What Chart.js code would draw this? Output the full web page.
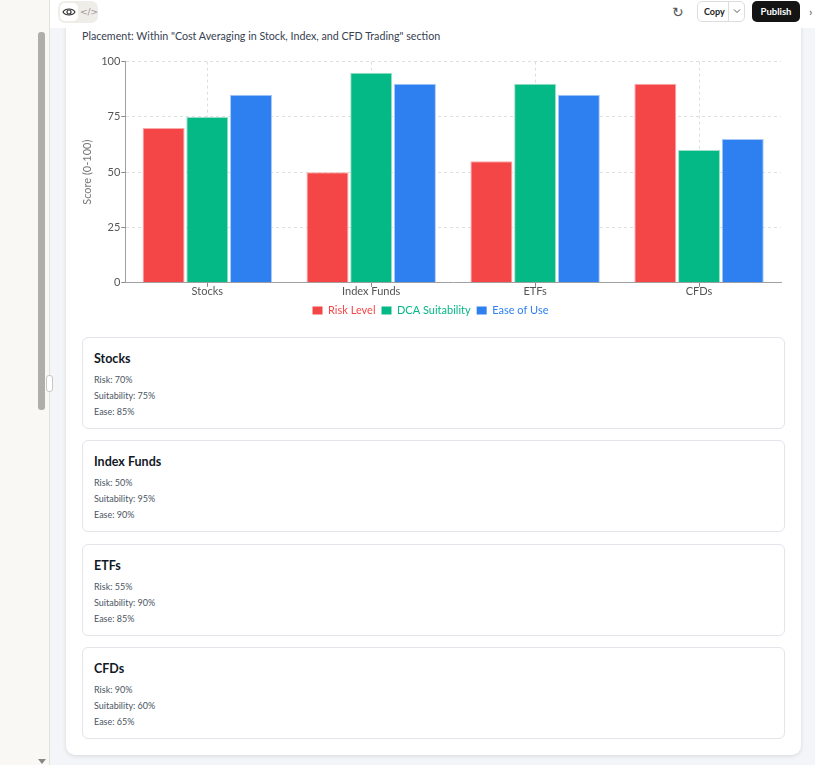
<!DOCTYPE html>
<html>
<head>
<meta charset="utf-8">
<script src="https://cdn.jsdelivr.net/npm/chart.js@4.4.1/dist/chart.umd.min.js"></script>
<style>
  html,body{margin:0;padding:0;width:815px;height:765px;overflow:hidden;font-family:Lato,"Noto Sans",sans-serif;background:#f3f5f9;}
  #sidebar{position:absolute;left:0;top:0;width:49px;height:765px;background:#f9f8f4;border-right:1px solid #e3e1da;}
  #thumb{position:absolute;left:38px;top:32px;width:7px;height:378px;background:#b0aea9;border-radius:3px;}
  #handle{position:absolute;left:46px;top:375px;width:5px;height:15px;border:1px solid #c9c7c1;border-radius:3px;background:#fff;}
  #arrow{position:absolute;left:38px;top:759px;width:0;height:0;border-left:4px solid transparent;border-right:4px solid transparent;border-top:5px solid #888;}
  #toolbar{position:absolute;left:50px;top:0;width:765px;height:28px;background:#fff;}
  #viewtoggle{position:absolute;left:8px;top:1px;width:40px;height:22px;background:#efede8;border-radius:7px;}
  #eye{position:absolute;left:2px;top:2px;width:18px;height:18px;background:#fff;border-radius:5px;}
  #code{position:absolute;left:22px;top:2px;width:16px;height:18px;font-size:9px;text-align:center;line-height:18px;color:#999;font-family:"DejaVu Sans";}
  #refresh{position:absolute;left:622px;top:4px;font-size:14px;color:#555;font-family:"DejaVu Sans";}
  #copy{position:absolute;left:647px;top:1px;width:48px;height:21px;border:1px solid #ddd;border-radius:5px;background:#fff;font-size:9px;box-sizing:border-box;}
  #copy span{position:absolute;left:6px;top:4px;color:#222;font-weight:700;}
  #copy i{position:absolute;left:30px;top:0;width:1px;height:19px;background:#ddd;}
  #copy svg{position:absolute;left:35px;top:6px;}
  #publish{position:absolute;left:702px;top:1px;width:48px;height:21px;background:#141414;border-radius:5px;color:#fff;font-size:9.5px;font-weight:700;text-align:center;line-height:21px;}
  #chev{position:absolute;left:759px;top:4px;font-size:12px;color:#555;}
  #card{position:absolute;left:66px;top:-20px;width:735px;height:775px;background:#fff;border-radius:9px;box-shadow:0 1px 4px rgba(0,0,0,0.12);}
  #placement{position:absolute;left:82px;top:29px;font-size:10.7px;color:#374151;}
  #chartbox{position:absolute;left:80px;top:54px;width:705px;height:272px;}
  .item{position:absolute;left:82px;width:703px;height:92px;border:1px solid #e3e5ea;border-radius:6px;box-sizing:border-box;background:#fff;}
  .item h3{position:absolute;left:11px;top:13px;margin:0;font-size:12.5px;font-weight:700;color:#111827;}
  .item p{position:absolute;left:11px;margin:0;font-size:9px;color:#4b5563;}
</style>
</head>
<body>
<div id="sidebar"><div id="thumb"></div><div id="handle"></div><div id="arrow"></div></div>
<div id="card"></div>
<div id="toolbar">
  <div id="viewtoggle">
    <div id="eye"><svg width="18" height="18" viewBox="0 0 18 18"><path d="M3 9 C5.5 5, 12.5 5, 15 9 C12.5 13, 5.5 13, 3 9 Z" fill="none" stroke="#333" stroke-width="1.2"/><circle cx="9" cy="9" r="2" fill="none" stroke="#333" stroke-width="1.2"/></svg></div>
    <div id="code">&lt;/&gt;</div>
  </div>
  <div id="refresh">&#8635;</div>
  <div id="copy"><span>Copy</span><i></i><svg width="8" height="6" viewBox="0 0 8 6"><path d="M1 1.5 L4 4.5 L7 1.5" fill="none" stroke="#555" stroke-width="1"/></svg></div>
  <div id="publish">Publish</div>
  <div id="chev">&#8250;</div>
</div>
<div id="placement">Placement: Within "Cost Averaging in Stock, Index, and CFD Trading" section</div>
<div id="chartbox"><canvas id="c"></canvas></div>
<div id="items"></div>
<script>
const categories = ["Stocks", "Index Funds", "ETFs", "CFDs"];
const riskLevel = [70, 50, 55, 90];
const dcaSuitability = [75, 95, 90, 60];
const easeOfUse = [85, 90, 85, 65];
const yTicks = [0, 25, 50, 75, 100];
const seriesNames = ["Risk Level", "DCA Suitability", "Ease of Use"];
const seriesColors = ["#f44646", "#04b985", "#2e7ff0"];
const seriesBorders = ["#f9aaaa", "#9ee0c8", "#a9c8f5"];

const ctx = document.getElementById('c');
Chart.defaults.font.family = 'Lato, "Noto Sans", sans-serif';
new Chart(ctx, {
  type: 'bar',
  data: {
    labels: categories,
    datasets: [riskLevel, dcaSuitability, easeOfUse].map((d, i) => ({
      label: seriesNames[i],
      data: d,
      backgroundColor: seriesColors[i],
      borderColor: seriesBorders[i],
      borderWidth: 1,
      barPercentage: 0.96,
      categoryPercentage: 0.8
    }))
  },
  options: {
    responsive: true,
    maintainAspectRatio: false,
    animation: false,
    layout: { padding: { left: 0, right: 4, top: 5, bottom: 0 } },
    plugins: {
      legend: {
        position: 'bottom',
        labels: {
          boxWidth: 10, boxHeight: 8, padding: 6,
          font: { size: 11 },
          generateLabels: (chart) => {
            const items = Chart.defaults.plugins.legend.labels.generateLabels(chart);
            items.forEach((it, i) => { it.fontColor = seriesColors[i]; it.strokeStyle = seriesColors[i]; it.lineWidth = 0; });
            return items;
          }
        }
      },
      tooltip: { enabled: false }
    },
    scales: {
      x: {
        afterFit: (scale) => { scale.height += 3; },
        grid: { offset: false, color: '#dedede', tickColor: '#888', tickLength: 4 },
        border: { color: '#a0a0a0', dash: [3, 3], display: true },
        ticks: { color: '#555', font: { size: 11 }, padding: -2 }
      },
      y: {
        min: 0, max: 100,
        afterBuildTicks: (axis) => { axis.ticks = yTicks.map(v => ({ value: v })); },
        grid: { color: '#dedede', tickColor: '#888', tickLength: 4 },
        border: { color: '#a0a0a0', dash: [3, 3] },
        ticks: { color: '#555', font: { size: 11 }, padding: 1 },
        title: { display: true, text: 'Score (0-100)', color: '#777', font: { size: 11 }, padding: { top: 1, bottom: 6 } }
      }
    }
  }
});

const items = document.getElementById('items');
categories.forEach((cat, i) => {
  const div = document.createElement('div');
  div.className = 'item';
  div.style.top = (337 + i * 103.3) + 'px';
  div.innerHTML = '<h3>' + cat + '</h3>' +
    '<p style="top:36px">Risk: ' + riskLevel[i] + '%</p>' +
    '<p style="top:52px">Suitability: ' + dcaSuitability[i] + '%</p>' +
    '<p style="top:68px">Ease: ' + easeOfUse[i] + '%</p>';
  items.appendChild(div);
});
</script>
</body>
</html>
